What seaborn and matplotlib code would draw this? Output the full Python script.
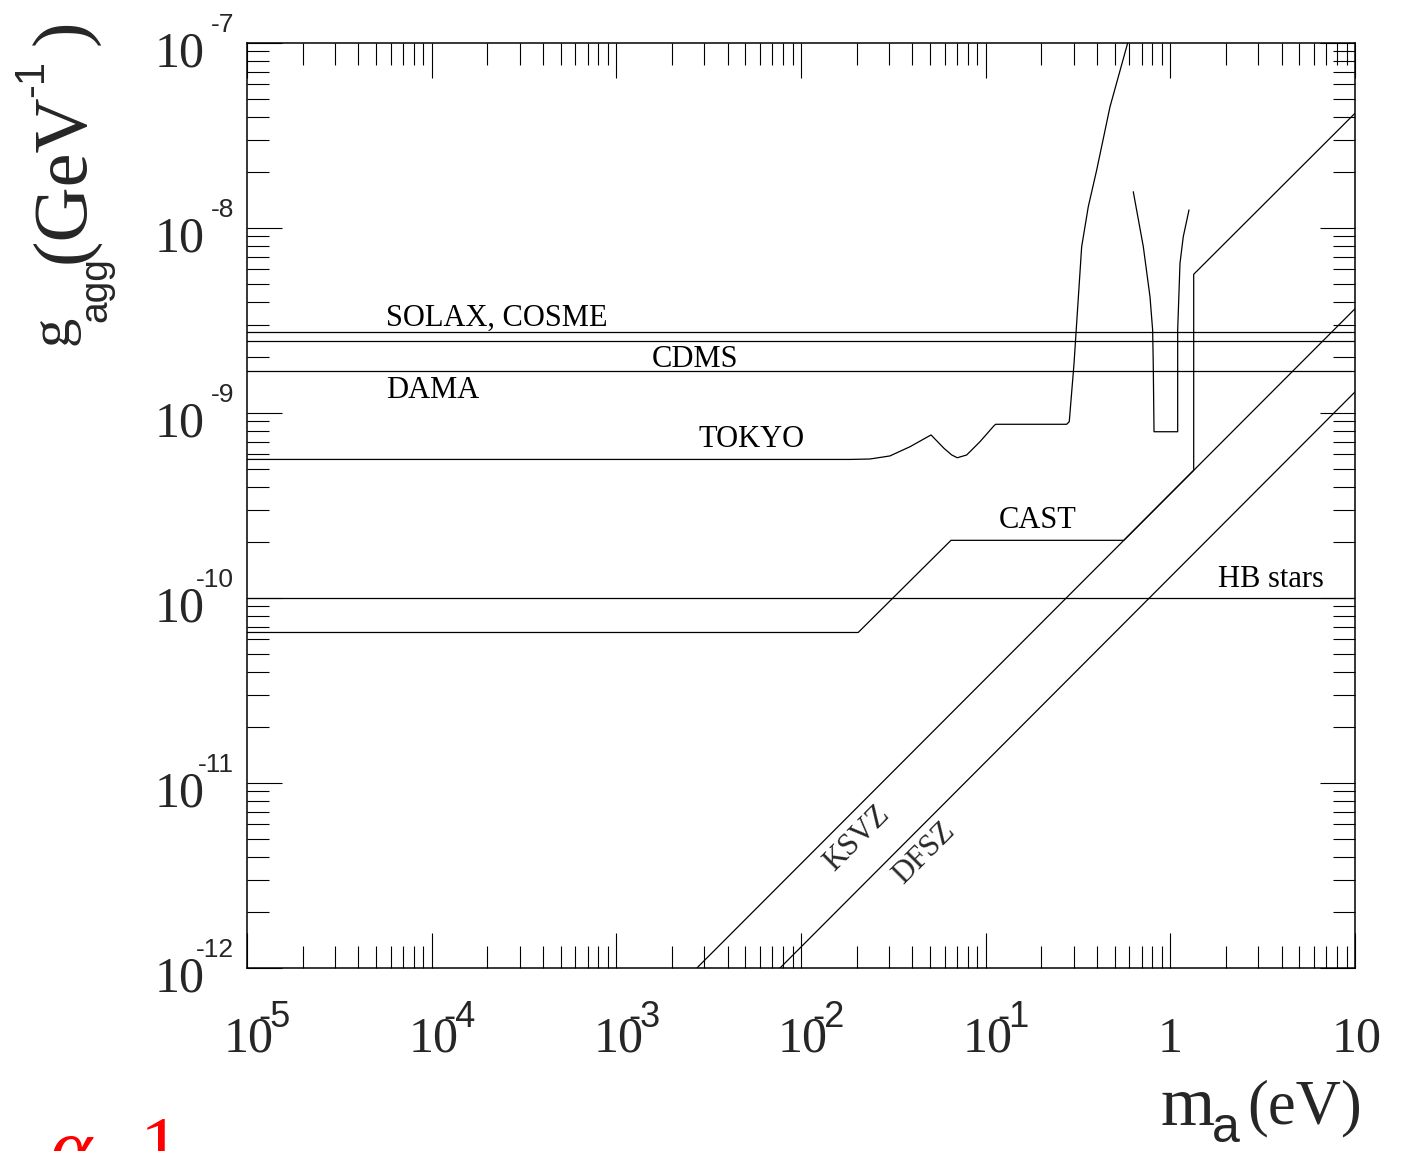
import matplotlib
matplotlib.use("Agg")
import matplotlib.pyplot as plt
import seaborn as sns
import pandas as pd
from matplotlib.ticker import LogLocator, NullFormatter

# ---- axion-photon coupling limits (g in GeV^-1, m_a in eV) ----
# flat laboratory limits
g_solax_cosme = 2.74e-9
g_cdms = 2.46e-9
g_dama = 1.69e-9
g_hb_stars = 1.0e-10

# Tokyo helioscope
ma_tokyo = [1e-5, 0.0184, 0.0236, 0.0303, 0.0389, 0.0506, 0.0595, 0.0655, 0.0702,
            0.0789, 0.0932, 0.111, 0.1133, 0.2747, 0.2836, 0.301, 0.3135, 0.331,
            0.3595, 0.3993, 0.4713, 0.5875]
g_tokyo = [5.61e-10, 5.61e-10, 5.64e-10, 5.86e-10, 6.57e-10, 7.61e-10, 6.44e-10,
           5.93e-10, 5.73e-10, 5.93e-10, 7.0e-10, 8.54e-10, 8.69e-10, 8.69e-10,
           8.98e-10, 1.856e-9, 3.46e-9, 7.92e-9, 1.304e-8, 2.06e-8, 4.52e-8, 1.0e-7]

# telescope search near 1 eV
ma_scope = [0.630, 0.714, 0.776, 0.802, 0.808, 0.816, 1.096, 1.096, 1.128, 1.175, 1.262]
g_scope = [1.571e-8, 7.92e-9, 4.25e-9, 2.81e-9, 1.864e-9, 7.92e-10, 7.92e-10,
           2.81e-9, 6.45e-9, 8.97e-9, 1.252e-8]

# CAST
ma_cast = [1e-5, 0.0204, 0.0649, 0.56, 1.338, 1.338, 10.0]
g_cast = [6.51e-11, 6.51e-11, 2.05e-10, 2.05e-10, 4.90e-10, 5.62e-9, 4.17e-8]

# QCD axion model lines
ma_ksvz = [2.73e-3, 10.0]
g_ksvz = [1.0e-12, 3.66e-9]
ma_dfsz = [7.7e-3, 10.0]
g_dfsz = [1.0e-12, 1.30e-9]

# axis ticks
x_major = [1e-5, 1e-4, 1e-3, 1e-2, 1e-1, 1.0, 10.0]
x_base = ["10", "10", "10", "10", "10", "1", "10"]
x_exp = ["-5", "-4", "-3", "-2", "-1", "", ""]
y_major = [1e-12, 1e-11, 1e-10, 1e-9, 1e-8, 1e-7]
y_exp = ["-12", "-11", "-10", "-9", "-8", "-7"]

sns.set_theme(style="ticks")
SERIF = "Liberation Serif"
SANS = "Liberation Sans"
plt.rcParams["font.family"] = [SERIF, "DejaVu Serif"]
plt.rcParams["axes.linewidth"] = 1.1

W, H = 1407, 1151
fig = plt.figure(figsize=(W / 100, H / 100), dpi=100)
fig.patch.set_facecolor("white")
ax = fig.add_axes([247 / W, 1 - 968 / H, (1355 - 247) / W, (968 - 43) / H])
ax.set_facecolor("white")

line_kw = dict(color="black", linewidth=0.9, sort=False, estimator=None, ax=ax, legend=False)

for g in (g_solax_cosme, g_cdms, g_dama, g_hb_stars):
    ax.axhline(g, color="black", linewidth=0.9)

for mx, gy in ((ma_tokyo, g_tokyo), (ma_scope, g_scope), (ma_cast, g_cast),
               (ma_ksvz, g_ksvz), (ma_dfsz, g_dfsz)):
    df = pd.DataFrame({"ma": mx, "g": gy})
    sns.lineplot(data=df, x="ma", y="g", **line_kw)

ax.set_xscale("log")
ax.set_yscale("log")
ax.set_xlim(1e-5, 10)
ax.set_ylim(1e-12, 1e-7)
ax.set_xlabel("")
ax.set_ylabel("")

for axis in (ax.xaxis, ax.yaxis):
    axis.set_major_locator(LogLocator(base=10, numticks=20))
    axis.set_minor_locator(LogLocator(base=10, subs=range(2, 10), numticks=100))
    axis.set_minor_formatter(NullFormatter())
ax.tick_params(which="both", direction="in", top=True, right=True,
               labelbottom=False, labelleft=False, color="black", width=0.8)
ax.tick_params(which="major", length=25)
ax.tick_params(which="minor", length=16)
for s in ax.spines.values():
    s.set_color("black")

# tick labels drawn ROOT-style: base plus small raised exponent
for v, e in zip(y_major, y_exp):
    ax.annotate("10", xy=(0, v), xycoords=("axes fraction", "data"), xytext=(-42, -24),
                textcoords="offset pixels", ha="right", va="baseline", fontsize=36,
                family=SERIF, annotation_clip=False)
    ax.annotate(e, xy=(0, v), xycoords=("axes fraction", "data"), xytext=(-13, 11),
                textcoords="offset pixels", ha="right", va="baseline", fontsize=19,
                family=SANS, annotation_clip=False)
for v, b, e in zip(x_major, x_base, x_exp):
    dx = 2 if b == "10" else 0
    ax.annotate(b, xy=(v, 0), xycoords=("data", "axes fraction"), xytext=(dx, -84),
                textcoords="offset pixels", ha="center", va="baseline", fontsize=36,
                family=SERIF, annotation_clip=False)
    if e:
        ax.annotate(e, xy=(v, 0), xycoords=("data", "axes fraction"), xytext=(44, -59),
                    textcoords="offset pixels", ha="right", va="baseline", fontsize=26,
                    family=SANS, annotation_clip=False)

# curve labels
lab_kw = dict(fontsize=22, family=SERIF, ha="left", va="baseline", color="black")
ax.text(5.66e-5, 2.95e-9, "SOLAX, COSME", **lab_kw)
ax.text(1.56e-3, 1.78e-9, "CDMS", **lab_kw)
ax.text(5.66e-5, 1.20e-9, "DAMA", **lab_kw)
ax.text(2.78e-3, 6.57e-10, "TOKYO", **lab_kw)
ax.text(0.117, 2.38e-10, "CAST", **lab_kw)
ax.text(1.805, 1.15e-10, "HB stars", **lab_kw)
ax.text(0.0202, 4.98e-12, "KSVZ", fontsize=22, family=SERIF, rotation=45,
        ha="center", va="center", rotation_mode="anchor")
ax.text(0.0466, 4.16e-12, "DFSZ", fontsize=22, family=SERIF, rotation=45,
        ha="center", va="center", rotation_mode="anchor")


def ftext(xp, yp, s, **kw):
    fig.text(xp / W, 1 - yp / H, s, **kw)


# y axis title: g_agg (GeV^-1)
rot = dict(rotation=90, rotation_mode="anchor", ha="left", va="baseline")
ftext(67, 345, "g", fontsize=42, family=SERIF, **rot)
ftext(106, 322, "agg", fontsize=28, family=SANS, **rot)
ftext(83, 263, "(GeV", fontsize=55, family=SERIF, **rot)
ftext(43, 97, "-1", fontsize=30, family=SANS, **rot)
ftext(83, 45, ")", fontsize=55, family=SERIF, **rot)

# x axis title: m_a (eV)
ftext(1160, 1125, "m", fontsize=50, family=SERIF, ha="left", va="baseline")
ftext(1212, 1142, "a", fontsize=36, family=SANS, ha="left", va="baseline")
ftext(1247, 1123, "(eV)", fontsize=45, family=SERIF, ha="left", va="baseline")

# red annotation at the lower edge
ftext(50, 1174, "α", fontsize=58, family=SERIF, style="italic", color="red",
      ha="left", va="baseline")
ftext(140, 1172, "1", fontsize=58, family=SERIF, color="red", ha="left", va="baseline")

fig.savefig("out.png", dpi=100, facecolor="white")
